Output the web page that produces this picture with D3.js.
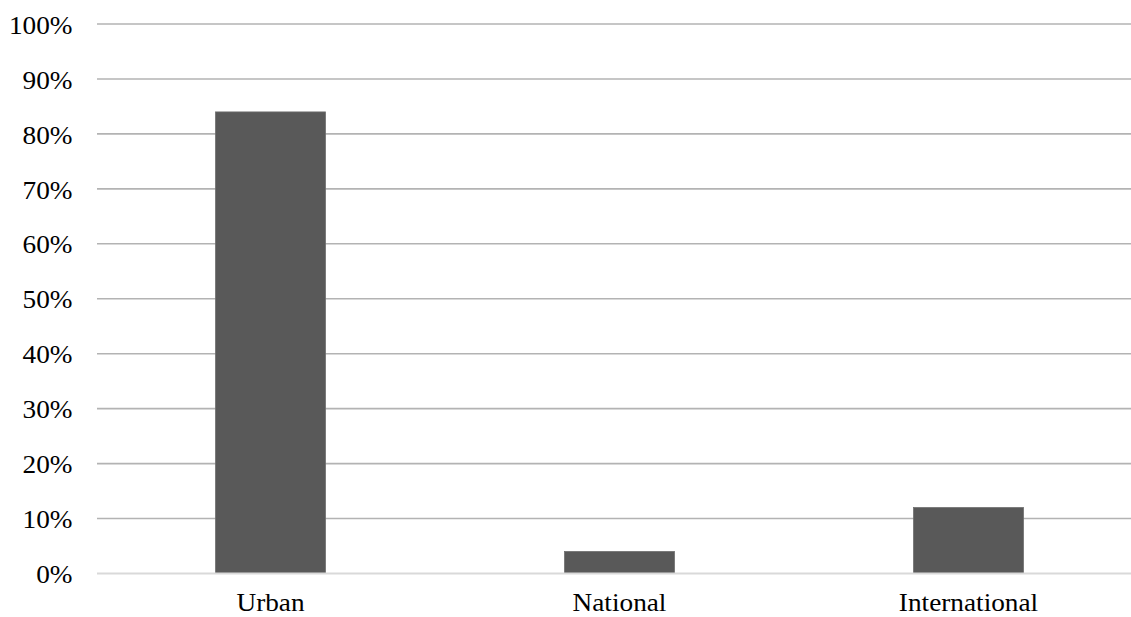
<!DOCTYPE html>
<html><head><meta charset="utf-8">
<script src="https://cdn.jsdelivr.net/npm/d3@7"></script>
<style>body{margin:0;background:#fff;} svg{display:block;}</style>
</head><body>
<svg id="chart" width="1131" height="617"></svg>
<script>
const categories = ["Urban", "National", "International"];
const values = [0.84, 0.04, 0.12];
const yTicks = [0, 0.1, 0.2, 0.3, 0.4, 0.5, 0.6, 0.7, 0.8, 0.9, 1.0];

const svg = d3.select("#chart");
const x = d3.scaleBand().domain(categories).range([96, 1143]).paddingInner(0.685).paddingOuter(0.3425);
const y = d3.scaleLinear().domain([0, 1]).range([573.5, 24]);
const font = "'Liberation Serif', 'Times New Roman', serif";

// gridlines
svg.append("g").selectAll("line").data(yTicks.filter(d => d > 0)).join("line")
  .attr("x1", 97).attr("x2", 1131)
  .attr("y1", d => y(d)).attr("y2", d => y(d))
  .attr("stroke", "#b3b3b3").attr("stroke-width", 1.6);

// bars
svg.append("g").selectAll("rect").data(categories).join("rect")
  .attr("x", d => x(d)).attr("width", x.bandwidth())
  .attr("y", (d, i) => y(values[i])).attr("height", (d, i) => y(0) - y(values[i]))
  .attr("fill", "#595959").attr("stroke", "#6e6e6e").attr("stroke-width", 0.8);

// baseline
svg.append("line").attr("x1", 97).attr("x2", 1131).attr("y1", y(0)).attr("y2", y(0))
  .attr("stroke", "#d9d9d9").attr("stroke-width", 2);

// y axis labels
const yAxis = d3.axisLeft(y).tickValues(yTicks).tickFormat(d3.format(".0%")).tickSize(0).tickPadding(0);
const ya = svg.append("g").attr("transform", "translate(72.5,0)").call(yAxis);
ya.select(".domain").remove();
ya.selectAll("text").attr("font-family", font).attr("font-size", 25.5).attr("fill", "#000")
  .attr("dy", "0.36em").attr("transform", "scale(1.07,1)");

// x axis labels
const xAxis = d3.axisBottom(x).tickSize(0).tickPadding(0);
const xa = svg.append("g").attr("transform", "translate(0,611)").call(xAxis);
xa.select(".domain").remove();
xa.selectAll("text").attr("font-family", font).attr("font-size", 25.5).attr("fill", "#000")
  .attr("dy", "0").attr("transform", "scale(1.07,1)");
</script>
</body></html>
